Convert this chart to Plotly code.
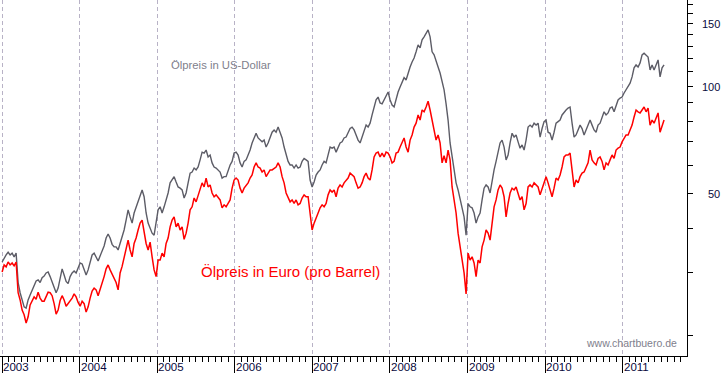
import plotly.graph_objects as go
import pandas as pd
import math

# ---- data ----
first_date = "2003-01-01"
last_date = "2011-07-15"

usd_price = [
    32.2, 33.0, 33.7, 34.3, 33.7, 34.1, 33.3, 34.1, 28.2, 26.4, 25.0, 24.1, 23.9, 25.2, 26.0, 26.9, 27.8, 28.5, 28.7, 28.2,
    29.1, 29.4, 30.0, 30.2, 29.3, 28.2, 27.2, 26.4, 27.2, 29.1, 30.8, 29.6, 28.4, 28.0, 29.3, 30.0, 30.4, 30.0, 31.2, 32.0,
    31.8, 30.6, 29.6, 30.6, 32.2, 33.7, 34.1, 33.3, 32.4, 33.5, 34.6, 35.7, 37.6, 38.6, 37.6, 36.1, 35.5,
    35.5, 34.8, 36.3, 38.3, 39.6, 42.2, 45.1, 43.1, 41.4, 44.2, 46.0, 48.1, 49.7, 51.3, 49.1, 44.2, 41.4, 40.1, 38.8, 38.3,
    42.2, 45.1, 46.0, 44.2, 46.0, 48.1, 50.3, 53.7, 54.7, 55.9, 54.0, 52.3, 51.9, 51.3, 48.7, 50.3, 53.7, 57.2, 57.6, 59.1,
    58.4, 59.5, 62.3, 65.5, 65.1, 66.4, 63.5, 64.3, 61.1, 59.5, 59.1, 58.4, 57.6, 55.4, 55.9,
    55.9, 58.4, 60.3, 61.7, 65.1, 65.5, 64.3, 61.1, 59.5, 61.7, 62.3, 64.3, 66.4, 69.5, 72.2, 74.0, 71.8, 70.8, 70.0, 70.8,
    67.7, 69.5, 72.2, 74.5, 75.6, 74.5, 77.0, 74.5, 71.8, 67.7, 64.3, 61.7, 60.3, 60.3, 59.1, 60.3, 59.1, 59.5, 61.7, 62.9,
    62.3, 61.7, 54.7, 52.3, 54.0, 56.5, 57.6, 58.4, 60.3, 61.7, 61.1, 65.1, 67.7, 67.2, 67.7,
    65.5, 67.7, 69.5, 70.0, 71.8, 72.2, 74.0, 76.3, 77.0, 75.6, 73.2, 70.8, 69.5, 72.2, 75.6, 78.0, 77.0, 79.0, 83.3, 87.7,
    91.8, 93.5, 90.0, 89.5, 91.8, 93.5, 96.6, 91.8, 88.8, 87.7, 92.9, 96.6, 99.8, 103.3, 106.0, 104.4, 109.2, 113.6, 117.3, 120.4,
    125.3, 131.0, 128.5, 135.3, 138.0, 141.6, 144.3, 138.0, 125.3, 122.8, 117.3, 113.6, 109.2, 102.7, 97.9,
    89.5, 80.6, 69.5, 63.5, 59.5, 53.7, 51.3, 48.1, 46.0, 43.1, 38.3, 47.0, 46.0, 45.7, 44.2, 41.4, 43.1, 44.2, 48.1, 51.9,
    53.0, 52.3, 50.3, 54.7, 58.4, 61.7, 65.1, 69.5, 70.8, 67.7, 62.3, 64.3, 69.5, 74.0, 72.2, 73.2, 70.0, 67.2, 68.6, 66.4,
    70.8, 77.0, 78.0, 77.0, 79.0, 78.0, 79.0, 72.2, 76.3, 79.8, 80.6, 74.5, 74.0, 70.8, 74.5,
    79.0, 79.8, 80.6, 83.3, 85.0, 86.0, 87.1, 87.7, 79.0, 72.2, 73.2, 75.6, 78.0, 76.3, 73.2, 75.6, 78.0, 80.6, 78.0, 75.6,
    74.5, 78.0, 79.0, 82.2, 85.0, 83.3, 84.4, 87.1, 87.7, 85.0, 88.8, 91.8, 92.9, 93.5, 96.0, 97.9, 99.8, 102.3, 106.5, 112.9,
    115.1, 113.6, 116.6, 122.8, 124.1, 122.8, 121.1, 111.4, 115.1, 111.4, 115.1, 118.9, 106.5, 112.9, 115.1,
]

eur_price = [
    30.2, 31.6, 31.2, 32.2, 31.6, 32.0, 31.4, 32.2, 26.4, 25.2, 23.6, 22.9, 21.7, 22.6, 24.4, 25.0, 25.7, 25.3, 26.5, 25.5,
    25.0, 25.0, 25.9, 26.5, 26.4, 25.9, 24.6, 23.0, 23.6, 25.1, 25.9, 25.2, 24.2, 24.6, 25.2, 25.5, 26.2, 25.7, 24.8, 24.2,
    25.0, 24.6, 23.3, 24.1, 25.5, 26.7, 27.2, 26.9, 25.9, 26.9, 28.0, 29.3, 30.8, 31.6, 30.6, 29.8, 29.1,
    28.2, 26.9, 30.0, 31.3, 33.3, 35.5, 37.1, 34.8, 33.3, 36.3, 37.6, 39.6, 41.4, 42.2, 38.8, 36.3, 34.8, 36.6, 33.3, 30.6,
    29.3, 32.6, 32.6, 34.1, 33.3, 36.3, 37.6, 40.4, 42.2, 43.1, 40.4, 41.4, 39.6, 40.4, 37.3, 38.8, 41.4, 45.1, 46.0, 48.7,
    47.5, 49.7, 51.3, 53.7, 52.3, 55.4, 52.3, 53.0, 50.3, 49.1, 49.7, 48.7, 48.1, 45.7, 46.6,
    46.0, 47.0, 48.1, 51.9, 54.7, 55.4, 54.7, 51.9, 50.3, 51.9, 53.0, 53.7, 55.4, 56.5, 59.5, 61.1, 59.5, 59.1, 57.6, 58.4,
    55.9, 57.0, 58.4, 58.4, 59.1, 59.5, 61.1, 59.5, 55.9, 53.7, 50.3, 48.7, 47.5, 48.1, 47.0, 48.1, 46.6, 47.0, 48.7, 49.7,
    49.1, 49.1, 44.2, 39.6, 41.4, 43.1, 44.2, 45.7, 46.6, 46.0, 47.0, 49.7, 51.3, 50.6, 51.3,
    49.1, 51.9, 53.0, 52.3, 53.7, 54.7, 55.4, 57.2, 56.5, 55.9, 53.7, 51.9, 52.3, 53.7, 55.9, 57.2, 55.4, 54.7, 58.4, 63.5,
    65.1, 65.5, 63.5, 65.1, 63.5, 65.5, 65.1, 63.5, 61.1, 61.7, 65.1, 65.5, 67.7, 70.0, 71.8, 67.7, 65.5, 70.8, 73.2, 77.0,
    79.0, 83.3, 80.6, 86.0, 85.0, 87.7, 91.0, 86.0, 80.6, 77.0, 70.8, 73.2, 69.5, 61.1, 64.0,
    61.1, 66.4, 62.3, 52.3, 48.1, 44.2, 38.8, 35.5, 32.6, 30.0, 26.2, 34.1, 32.6, 33.3, 32.0, 29.3, 32.6, 32.0, 35.5, 37.1,
    39.6, 38.8, 37.1, 41.4, 46.0, 48.1, 51.3, 53.0, 51.9, 49.1, 43.1, 47.0, 50.3, 51.9, 51.3, 52.3, 50.3, 48.1, 49.1, 45.1,
    47.0, 52.3, 53.0, 52.3, 53.7, 53.0, 52.3, 49.7, 51.9, 54.0, 55.9, 53.7, 51.3, 49.1, 51.9,
    55.4, 54.7, 56.5, 59.5, 63.5, 64.3, 64.3, 65.1, 58.4, 52.3, 54.7, 53.7, 55.9, 57.2, 57.6, 59.5, 61.1, 66.4, 62.3, 61.1,
    60.3, 62.9, 63.5, 61.7, 58.4, 61.1, 60.3, 62.3, 64.3, 62.9, 66.4, 67.2, 67.7, 70.0, 71.8, 73.2, 73.2, 75.6, 78.0, 82.2,
    86.0, 85.0, 84.4, 86.0, 87.7, 85.0, 87.1, 78.0, 80.6, 79.0, 82.2, 84.4, 74.5, 78.0, 80.6,
]

year_labels = ["2003", "2004", "2005", "2006", "2007", "2008", "2009", "2010", "2011"]
y_tick_values = [20, 30, 40, 50, 60, 70, 80, 90, 100, 110, 120, 130, 140, 150, 160, 170]
y_labelled = [50, 100, 150]

usd_label = "Ölpreis in US-Dollar"
eur_label = "Ölpreis in Euro (pro Barrel)"
source_label = "www.chartbuero.de"

# ---- figure ----
dates = pd.date_range(start=first_date, end=last_date, periods=len(usd_price))

FONT = "Liberation Sans, Arial, sans-serif"
LABEL_COLOR = "#0a0a3c"

fig = go.Figure()
fig.add_trace(go.Scatter(x=dates, y=usd_price, mode="lines",
                         line=dict(color="#5c5c66", width=1.4), name="USD", hoverinfo="skip"))
fig.add_trace(go.Scatter(x=dates, y=eur_price, mode="lines",
                         line=dict(color="#ff0000", width=1.5), name="EUR", hoverinfo="skip"))

annotations = []
for yl in year_labels:
    annotations.append(dict(x=f"{yl}-01-01", xref="x", y=0, yref="paper",
                            text=yl, showarrow=False, xanchor="left", yanchor="middle",
                            yshift=-11, xshift=-1,
                            font=dict(family=FONT, size=11.5, color=LABEL_COLOR)))
for v in y_labelled:
    annotations.append(dict(x=1, xref="paper", y=math.log10(v), yref="y",
                            text=str(v), showarrow=False, xanchor="right", yanchor="middle",
                            xshift=35, font=dict(family=FONT, size=11, color=LABEL_COLOR)))

annotations.append(dict(x=169 / 687, xref="paper", y=1 - 65 / 356, yref="paper",
                        text=usd_label, showarrow=False, xanchor="left", yanchor="middle",
                        font=dict(family=FONT, size=11.3, color="#80808c")))
annotations.append(dict(x=199 / 687, xref="paper", y=1 - 271 / 356, yref="paper",
                        text=eur_label, showarrow=False, xanchor="left", yanchor="middle",
                        font=dict(family=FONT, size=15, color="#ff0000")))
annotations.append(dict(x=679 / 687, xref="paper", y=1 - 343 / 356, yref="paper",
                        text=source_label, showarrow=False, xanchor="right", yanchor="middle",
                        font=dict(family=FONT, size=10.5, color="#80808c")))

fig.update_layout(
    width=723, height=373,
    margin=dict(l=0, r=36, t=0, b=17),
    paper_bgcolor="white", plot_bgcolor="white",
    showlegend=False,
    annotations=annotations,
    xaxis=dict(
        type="date",
        range=["2002-12-22", "2011-10-31"],
        tick0="2003-01-01", dtick="M12",
        ticks="outside", ticklen=17, tickcolor="black", tickwidth=1,
        showticklabels=False,
        showline=True, linecolor="black", linewidth=1,
        showgrid=True, gridcolor="#b8b2c6", gridwidth=1, griddash="4px,3px",
        minor=dict(dtick="M1", ticks="outside", ticklen=5, tickcolor="black", tickwidth=1, showgrid=False),
        zeroline=False, fixedrange=True,
    ),
    yaxis=dict(
        type="log",
        side="right",
        range=[math.log10(17.54), math.log10(175.1)],
        tickvals=y_tick_values,
        ticks="outside", ticklen=5, tickcolor="black", tickwidth=1,
        showticklabels=False,
        showline=True, linecolor="black", linewidth=1,
        showgrid=False, zeroline=False, fixedrange=True,
    ),
)

fig.write_html(
    "out.html",
    config={"displayModeBar": False},
    post_script="document.body.style.margin='0';document.body.style.padding='0';document.documentElement.style.overflow='hidden';",
)
